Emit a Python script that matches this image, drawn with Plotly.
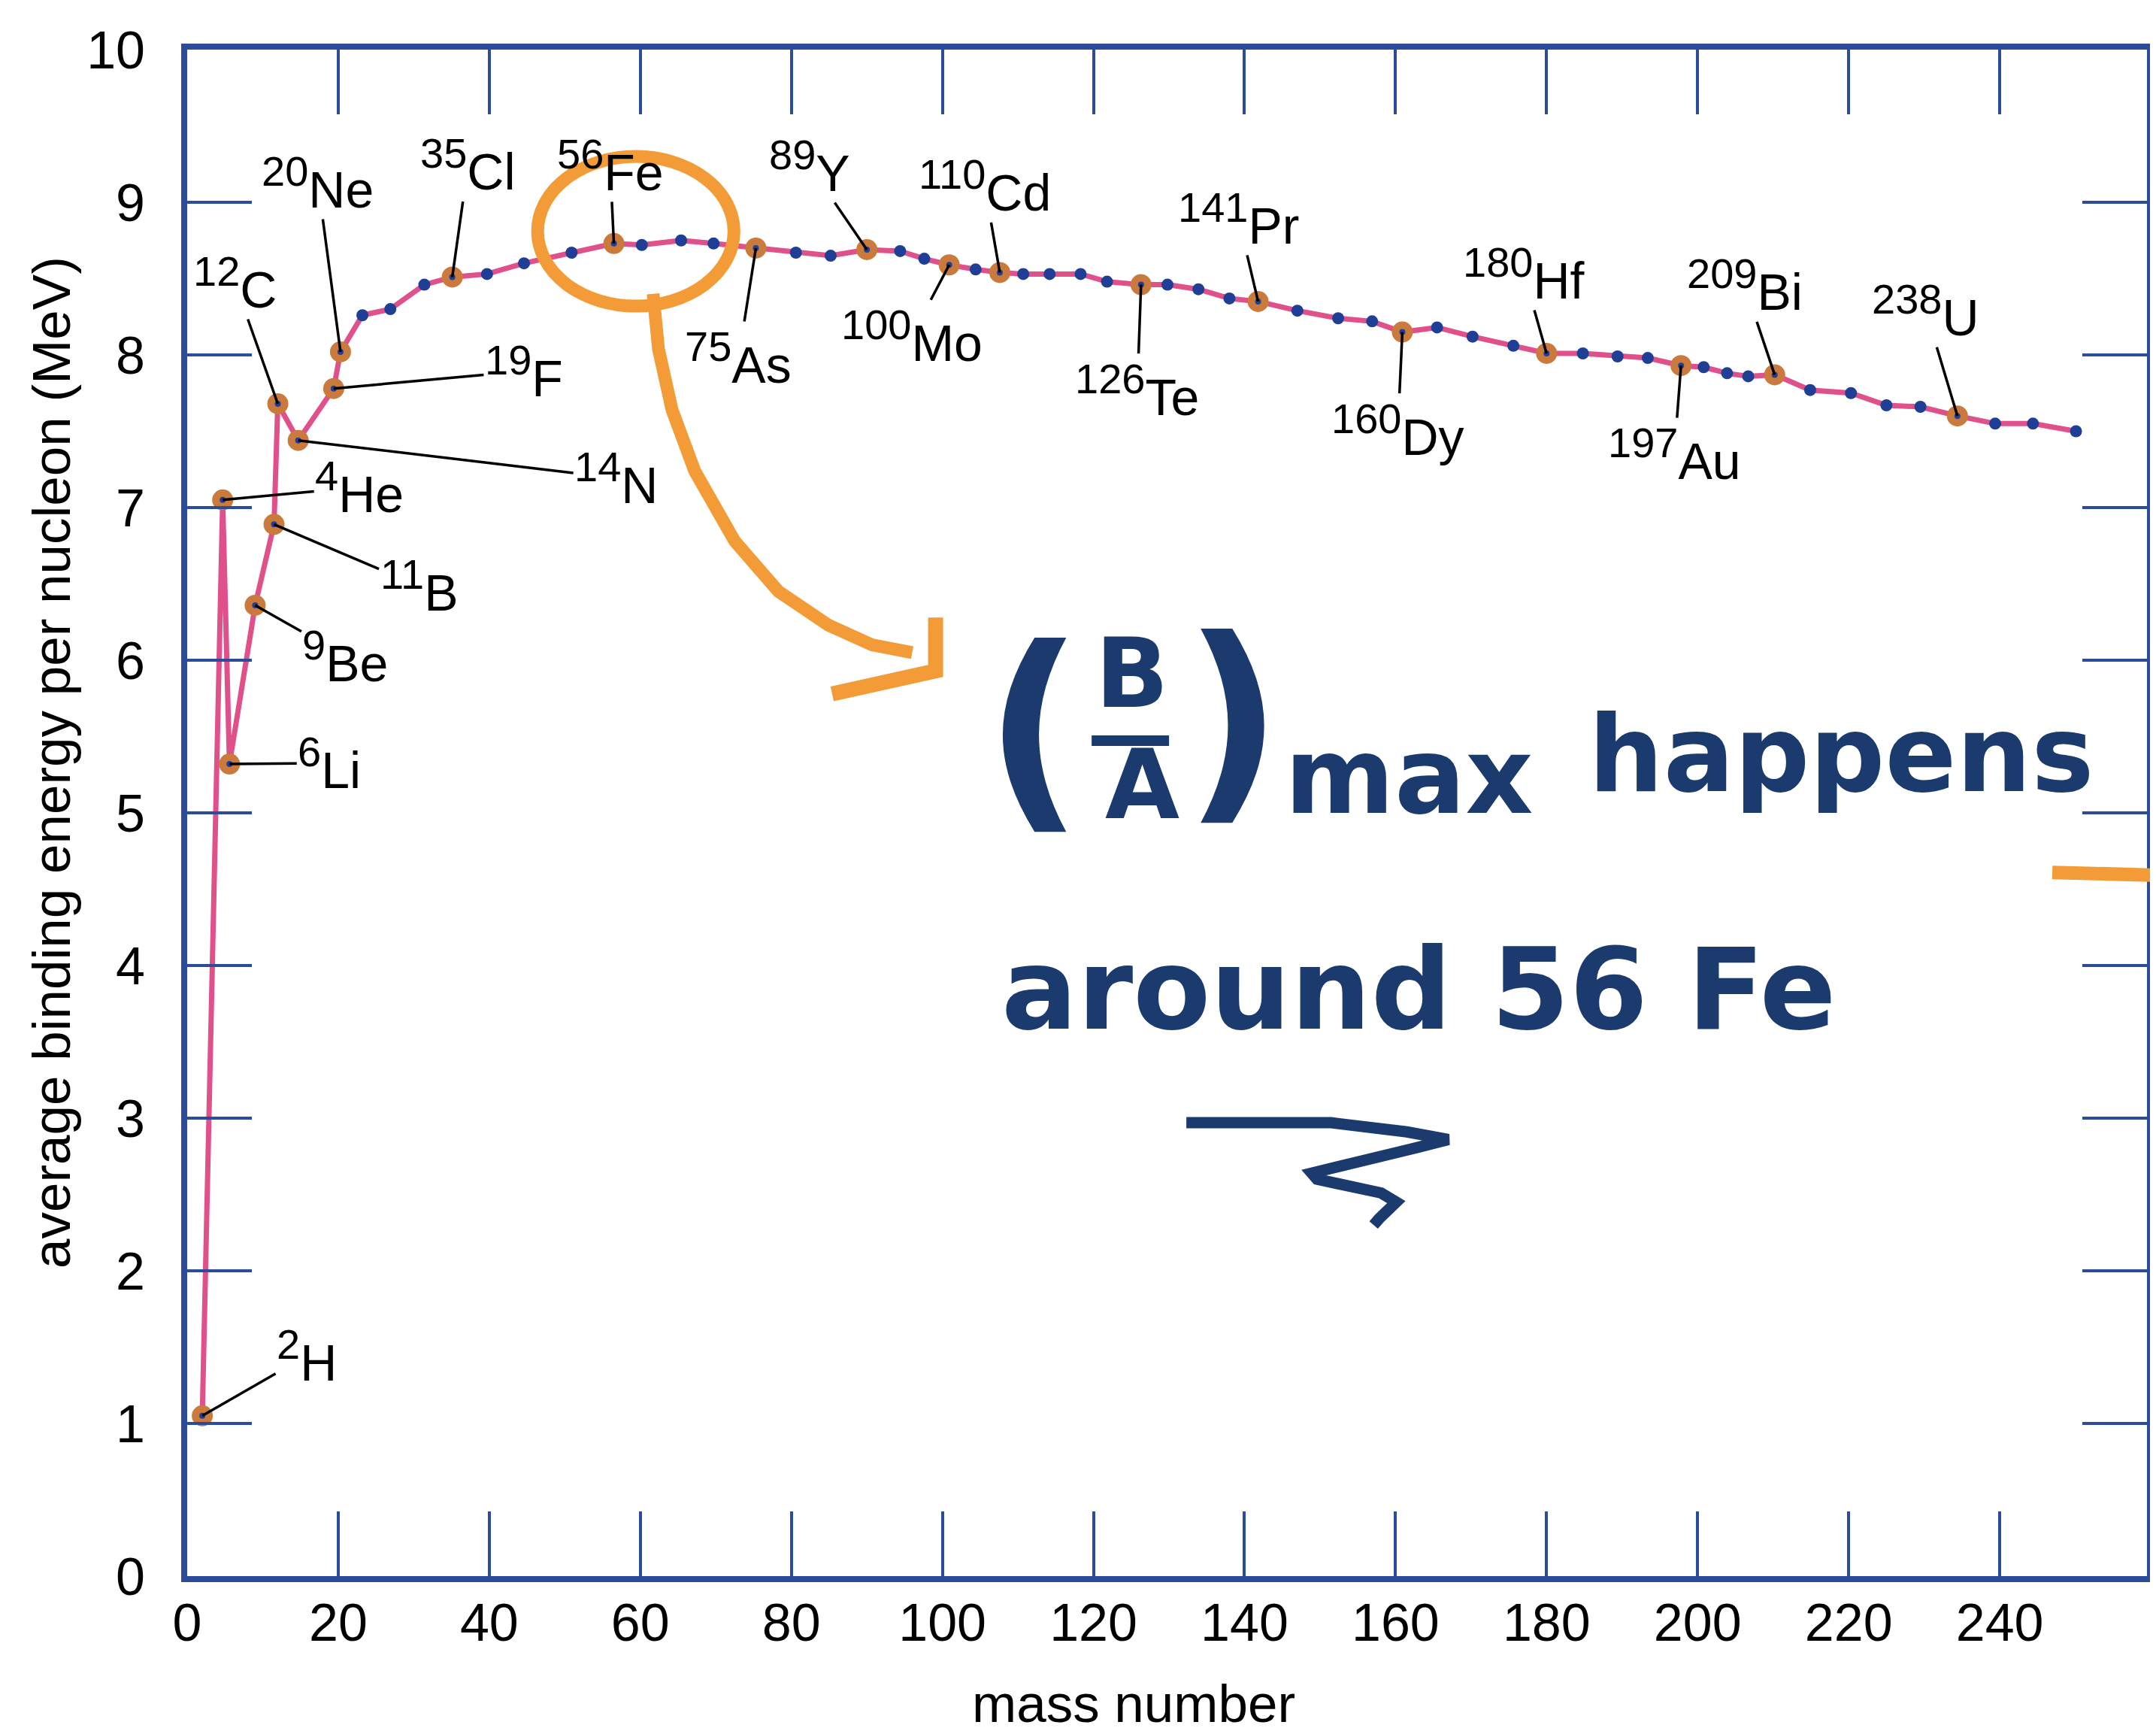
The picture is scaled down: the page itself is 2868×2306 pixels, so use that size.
import plotly.graph_objects as go

# ---------------- data ----------------
mass_number = [2.0, 4.7, 5.6, 9.0, 11.5, 12.0, 14.7, 19.4, 20.3, 23.2, 26.9, 31.4, 35.1, 39.7, 44.6, 50.9,
               56.5, 60.2, 65.4, 69.7, 75.3, 80.6, 85.2, 90.0, 94.4, 97.6, 100.9, 104.4, 107.6, 110.7,
               114.2, 118.3, 121.8, 126.3, 129.8, 133.9, 138.0, 141.8, 147.0, 152.4, 156.9, 160.9,
               165.5, 170.2, 175.6, 180.0, 184.8, 189.4, 193.4, 197.8, 200.8, 203.9, 206.7, 210.2,
               214.9, 220.3, 225.0, 229.5, 234.4, 239.4, 244.4, 250.1]
binding_energy = [1.05, 7.05, 5.32, 6.36, 6.89, 7.68, 7.44, 7.78, 8.02, 8.26, 8.30, 8.46, 8.51, 8.53, 8.60, 8.67,
                  8.73, 8.72, 8.75, 8.73, 8.70, 8.67, 8.65, 8.69, 8.68, 8.63, 8.59, 8.56, 8.54, 8.53,
                  8.53, 8.53, 8.48, 8.46, 8.46, 8.43, 8.37, 8.35, 8.29, 8.24, 8.22, 8.15,
                  8.18, 8.12, 8.06, 8.01, 8.01, 7.99, 7.98, 7.93, 7.92, 7.88, 7.86, 7.87,
                  7.77, 7.75, 7.67, 7.66, 7.60, 7.55, 7.55, 7.50]

isotope_mass = ["2", "4", "6", "9", "11", "12", "14", "19", "20", "35", "56", "75", "89", "100",
                "110", "126", "141", "160", "180", "197", "209", "238"]
isotope_symbol = ["H", "He", "Li", "Be", "B", "C", "N", "F", "Ne", "Cl", "Fe", "As", "Y", "Mo",
                  "Cd", "Te", "Pr", "Dy", "Hf", "Au", "Bi", "U"]
isotope_point = [0, 1, 2, 3, 4, 5, 6, 7, 8, 12, 16, 20, 23, 26, 28, 33, 37, 41, 45, 49, 53, 58]

x_ticks = list(range(0, 241, 20))
y_ticks = list(range(0, 11))

# ---------------- styles ----------------
label_dx = [139, 182, 133, 120, 193, -57, 423, 253, -30, 21, -5, -23, -76, -50, -20, -5, -26, -6, -30, -9, -40, -42]
label_dy = [-80, -17, -1, 68, 82, -161, 50, -23, -225, -149, -104, 146, -111, 95, -115, 140, -110, 130, -106, 118, -119, -140]

NAVY = "#2D4B9B"
DOT = "#1F3E96"
PINK = "#E0508A"
RING = "#C97A3C"
HAND_BLUE = "#1B3B6F"
HAND_ORANGE = "#F39C37"
FONT = "Liberation Sans, Arial, Helvetica, sans-serif"
HFONT = "DejaVu Sans, sans-serif"

fig = go.Figure()

fig.add_trace(go.Scatter(
    x=mass_number, y=binding_energy, mode="lines+markers",
    line=dict(color=PINK, width=7),
    marker=dict(color=DOT, size=16),
    hoverinfo="skip"))

lab_x = [mass_number[i] for i in isotope_point]
lab_y = [binding_energy[i] for i in isotope_point]
fig.add_trace(go.Scatter(x=lab_x, y=lab_y, mode="markers",
                         marker=dict(color=RING, size=28), hoverinfo="skip"))
fig.add_trace(go.Scatter(x=lab_x, y=lab_y, mode="markers",
                         marker=dict(color=DOT, size=8), hoverinfo="skip"))

annotations = []
for k, i in enumerate(isotope_point):
    annotations.append(dict(
        x=mass_number[i], y=binding_energy[i], xref="x", yref="y",
        text=f"<sup><span style='font-size:56px'>{isotope_mass[k]}</span></sup>{isotope_symbol[k]}",
        showarrow=True, arrowhead=0, arrowwidth=3.5, arrowcolor="black",
        ax=label_dx[k], ay=label_dy[k], standoff=0,
        font=dict(family=FONT, size=68, color="black")))

# axis titles
annotations.append(dict(text="mass number", x=0.483, y=-0.0837, xref="paper", yref="paper",
                        xanchor="center", yanchor="middle",
                        showarrow=False, font=dict(family=FONT, size=71, color="black")))
annotations.append(dict(text="average binding energy per nucleon (MeV)", x=-0.0694, y=0.533,
                        xref="paper", yref="paper", textangle=-90, showarrow=False,
                        xanchor="center", yanchor="middle",
                        font=dict(family=FONT, size=71, color="black")))

# handwritten note
def hand(text, x, y, size):
    return dict(text=text, x=x, y=y, xref="paper", yref="paper", showarrow=False,
                xanchor="center", yanchor="middle",
                font=dict(family=HFONT, size=size, color=HAND_BLUE, weight="bold"))

annotations += [
    hand("(", 0.4320, 0.5560, 290),
    hand("B", 0.4822, 0.5916, 128),
    hand("A", 0.4872, 0.5187, 128),
    hand(")", 0.5339, 0.5620, 290),
    hand("max", 0.6235, 0.5241, 140),
    hand("happens", 0.8441, 0.5384, 140),
    hand("around 56 Fe", 0.6285, 0.3842, 150),
]

def poly(pts):
    return "M " + " L ".join(f"{a},{b}" for a, b in pts)

arrow_curve = [(61.7, 8.40), (62.4, 8.04), (64.2, 7.64), (67.2, 7.24), (72.5, 6.78),
               (78.3, 6.45), (84.9, 6.23), (90.7, 6.10), (96.0, 6.05)]
arrow_head = [(85.4, 5.78), (99.1, 5.93), (99.1, 6.28)]
squiggle = [(132.3, 2.97), (151.5, 2.97), (161.5, 2.91), (167.0, 2.86), (163.1, 2.81),
            (148.9, 2.64), (149.6, 2.60), (158.1, 2.51), (160.1, 2.45), (157.8, 2.34), (157.1, 2.30)]

shapes = [
    dict(type="circle", xref="x", yref="y", x0=46.4, x1=72.4, y0=8.32, y1=9.30,
         line=dict(color=HAND_ORANGE, width=17), layer="above"),
    dict(type="path", xref="x", yref="y", path=poly(arrow_curve),
         line=dict(color=HAND_ORANGE, width=17), layer="above"),
    dict(type="path", xref="x", yref="y", path=poly(arrow_head),
         line=dict(color=HAND_ORANGE, width=20), layer="above"),
    dict(type="path", xref="x", yref="y", path=poly(squiggle),
         line=dict(color=HAND_BLUE, width=15), layer="above"),
    dict(type="line", xref="paper", yref="paper", x0=0.4615, x1=0.5010, y0=0.5473, y1=0.5473,
         line=dict(color=HAND_BLUE, width=14), layer="above"),
    dict(type="line", xref="paper", yref="y", x0=0.9517, x1=1.01, y0=4.61, y1=4.59,
         line=dict(color=HAND_ORANGE, width=18), layer="above"),
]

axis_common = dict(
    showline=True, linewidth=8, linecolor=NAVY, mirror="ticks",
    ticks="inside", ticklen=86, tickwidth=4, tickcolor=NAVY,
    showgrid=False, zeroline=False,
    tickfont=dict(family=FONT, size=70, color="black"),
)

fig.update_layout(
    width=2868, height=2306,
    margin=dict(l=241, r=16, t=58, b=218),
    paper_bgcolor="white", plot_bgcolor="white",
    showlegend=False,
    xaxis=dict(range=[0, 259.5], tickvals=x_ticks, ticklabelstandoff=-6, **axis_common),
    yaxis=dict(range=[0, 10], tickvals=y_ticks, ticklabelstandoff=34, **axis_common),
    annotations=annotations,
    shapes=shapes,
)

fig.write_html("out.html")
